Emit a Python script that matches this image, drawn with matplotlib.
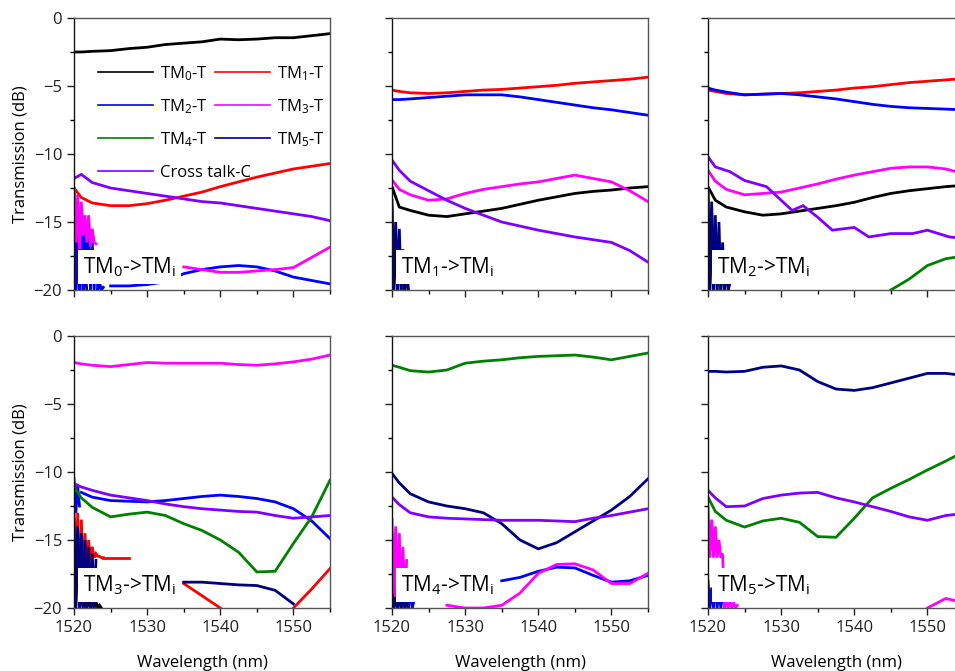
import numpy as np
import matplotlib.pyplot as plt
from matplotlib.ticker import MultipleLocator

nan = np.nan

# common wavelength grid (nm)
WL = [1520, 1521, 1522.5, 1525, 1527.5, 1530, 1532.5, 1535, 1537.5, 1540,
      1542.5, 1545, 1547.5, 1550, 1552.5, 1555]
# fine grid used for the noisy spikes close to 1520 nm
SPK = [1520.0, 1520.25, 1520.5, 1520.75, 1521.0, 1521.25, 1521.5, 1521.75, 1522.0,
       1522.25, 1522.5, 1522.75, 1523.0, 1523.25, 1523.5, 1523.75, 1524.0]

SERIES = ["TM$_0$-T", "TM$_1$-T", "TM$_2$-T", "TM$_3$-T", "TM$_4$-T", "TM$_5$-T", "Cross talk-C"]
COLORS = ["#000000", "#ff0000", "#0000ff", "#ff00ff", "#008000", "#000080", "#8000ff"]
PANEL_LABELS = ["TM$_0$->TM$_\\mathregular{i}$", "TM$_1$->TM$_\\mathregular{i}$", "TM$_2$->TM$_\\mathregular{i}$",
                "TM$_3$->TM$_\\mathregular{i}$", "TM$_4$->TM$_\\mathregular{i}$", "TM$_5$->TM$_\\mathregular{i}$"]

# ---- input TM0
P0_TM0 = [-2.5, -2.5, -2.45, -2.4, -2.25, -2.15, -1.95, -1.85, -1.75, -1.55, -1.6, -1.55, -1.45, -1.45, -1.3, -1.15]
P0_TM1 = [-12.5, -13.2, -13.6, -13.8, -13.8, -13.65, -13.4, -13.1, -12.8, -12.4, -12.05, -11.7, -11.4, -11.1, -10.9, -10.7]
P0_TM2 = [nan, nan, nan, -19.7, -19.7, -19.6, -19.4, -18.8, -18.5, -18.3, -18.2, -18.3, -18.6, -19.05, -19.3, -19.55]
P0_TM3 = [nan, nan, nan, nan, nan, nan, nan, -18.3, -18.5, -18.7, -18.7, -18.6, -18.5, -18.35, -17.6, -16.85]
P0_XT = [-11.8, -11.5, -12.1, -12.5, -12.7, -12.9, -13.1, -13.3, -13.5, -13.6, -13.8, -14.0, -14.2, -14.4, -14.6, -14.9]
P0_SPK_TM2 = [-13.0, -20, -14.0, -20, -14.5, -20, -15.5, -19, -16.0, -20, -16.5, -20, -17.5, -20, -19.5, -20, -19.8]
P0_SPK_TM3 = [-12.5, -16.5, -13.0, -17, -13.5, -16, -14.5, -16.5, -14.5, -16.8, -15.5, -16.5, -16.6, nan, nan, nan, nan]
P0_SPK_TM4 = [-12.8, -20, -13.5, -20, nan, nan, nan, nan, nan, nan, nan, nan, nan, nan, nan, nan, nan]
P0_SPK_TM5 = [-16.0, -20, -16.5, -20, -17.0, -20, -18.5, -20, nan, nan, nan, nan, nan, nan, nan, nan, nan]

# ---- input TM1
P1_TM0 = [-12.4, -13.9, -14.15, -14.5, -14.6, -14.4, -14.2, -14.0, -13.7, -13.4, -13.15, -12.9, -12.75, -12.65, -12.5, -12.4]
P1_TM1 = [-5.3, -5.4, -5.5, -5.55, -5.5, -5.4, -5.3, -5.25, -5.15, -5.05, -4.95, -4.8, -4.7, -4.6, -4.5, -4.35]
P1_TM2 = [-6.0, -6.0, -5.95, -5.85, -5.75, -5.65, -5.65, -5.65, -5.8, -6.0, -6.2, -6.4, -6.6, -6.75, -6.95, -7.15]
P1_TM3 = [-11.9, -12.6, -13.0, -13.4, -13.3, -12.9, -12.6, -12.4, -12.2, -12.05, -11.8, -11.55, -11.8, -12.05, -12.7, -13.5]
P1_XT = [-10.45, -11.2, -12.0, -12.7, -13.4, -14.0, -14.5, -15.0, -15.3, -15.6, -15.85, -16.1, -16.3, -16.5, -17.1, -17.95]
P1_SPK_TM4 = [-14.0, -20, -16.0, -20, -17.0, -20, -19.0, -20, -19.5, nan, nan, nan, nan, nan, nan, nan, nan]
P1_SPK_TM5 = [-13.4, -20, -15.0, -20, -15.5, -20, -17.0, -20, -18.5, -20, nan, nan, nan, nan, nan, nan, nan]

# ---- input TM2
P2_TM0 = [-12.4, -13.4, -13.9, -14.25, -14.5, -14.4, -14.2, -14.0, -13.8, -13.55, -13.2, -12.9, -12.7, -12.55, -12.4, -12.3]
P2_TM1 = [-5.3, -5.4, -5.55, -5.65, -5.6, -5.55, -5.5, -5.4, -5.3, -5.15, -5.05, -4.9, -4.75, -4.65, -4.55, -4.45]
P2_TM2 = [-5.15, -5.3, -5.45, -5.65, -5.6, -5.55, -5.65, -5.8, -5.95, -6.15, -6.35, -6.5, -6.6, -6.65, -6.7, -6.75]
P2_TM3 = [-11.2, -12.0, -12.6, -13.0, -12.9, -12.8, -12.5, -12.2, -11.85, -11.55, -11.3, -11.05, -10.95, -10.95, -11.1, -11.45]
P2_TM4 = [nan, nan, nan, nan, nan, nan, nan, nan, nan, nan, nan, -20.0, -19.2, -18.2, -17.7, -17.5]
P2_XT_WL = [1520, 1521, 1523, 1525, 1528, 1530, 1531.5, 1533, 1535, 1537, 1540, 1542, 1545, 1548, 1550, 1553, 1555]
P2_XT = [-10.2, -10.95, -11.3, -11.95, -12.4, -13.4, -14.15, -13.8, -14.65, -15.6, -15.4, -16.1, -15.85, -15.85, -15.6, -16.1, -16.2]
P2_SPK_TM4 = [-12.5, -20, -14.0, -20, -16.0, -20, -17.5, -20, -19.0, nan, nan, nan, nan, nan, nan, nan, nan]
P2_SPK_TM5 = [-12.8, -20, -13.5, -20, -14.5, -20, -15.0, -20, -16.5, -20, -18.5, -20, -19.5, nan, nan, nan, nan]

# ---- input TM3
P3_TM1 = [nan, nan, nan, nan, nan, nan, nan, -18.2, -19.1, -20.0, nan, nan, nan, -20.0, -18.6, -17.1]
P3_TM2 = [nan, -11.5, -11.85, -12.1, -12.15, -12.2, -12.1, -11.95, -11.8, -11.7, -11.8, -11.95, -12.2, -12.7, -13.6, -14.9]
P3_TM3 = [-1.95, -2.05, -2.15, -2.25, -2.1, -1.95, -2.0, -2.0, -2.0, -2.0, -2.1, -2.15, -2.05, -1.9, -1.7, -1.4]
P3_TM4 = [-11.1, -11.9, -12.6, -13.3, -13.1, -12.95, -13.2, -13.8, -14.3, -15.0, -15.9, -17.35, -17.3, -15.25, -13.3, -10.6]
P3_TM5 = [nan, nan, nan, nan, nan, nan, nan, -18.1, -18.1, -18.2, -18.3, -18.35, -18.7, -19.7, nan, nan]
P3_XT = [-10.85, -11.1, -11.35, -11.7, -11.9, -12.1, -12.35, -12.55, -12.7, -12.8, -12.9, -12.95, -13.2, -13.4, -13.3, -13.2]
P3_SPK_TM0 = [nan, nan, nan, nan, -19.3, -20, -19.5, -20, -19.4, -20, -19.6, -20, -19.5, -20, -19.8, -20, nan]
P3_SPK_TM1 = [-12.5, -20, -13.0, -20, -13.5, -18, -14.5, -17, -15.0, -16.5, -15.5, -16.3, -16.0, -16.2, -16.2, -16.3, -16.3]
P3_SPK_TM2 = [-10.5, -13, -11.0, -12.5, nan, nan, nan, nan, nan, nan, nan, nan, nan, nan, nan, nan, nan]
P3_SPK_TM5 = [-13.5, -20, -14.0, -20, -14.5, -20, -15.0, -20, -15.5, -20, -16.0, -20, -16.5, nan, nan, nan, nan]
P3_RED_TAIL_WL = [1524, 1525.5, 1527.5]
P3_RED_TAIL = [-16.3, -16.3, -16.3]

# ---- input TM4
P4_TM2 = [nan, nan, nan, nan, nan, nan, nan, -18.0, -17.75, -17.3, -17.0, -17.05, -17.6, -18.1, -18.0, -17.6]
P4_TM3 = [nan, nan, nan, nan, -19.8, -20.0, -20.0, -19.8, -18.9, -17.45, -16.8, -16.75, -17.2, -18.2, -18.2, -17.45]
P4_TM4 = [-2.15, -2.3, -2.55, -2.65, -2.5, -2.0, -1.85, -1.75, -1.6, -1.5, -1.45, -1.4, -1.55, -1.75, -1.5, -1.25]
P4_TM5 = [-10.1, -10.8, -11.6, -12.2, -12.5, -12.7, -13.0, -13.8, -15.0, -15.65, -15.2, -14.4, -13.6, -12.8, -11.8, -10.5]
P4_XT = [-11.85, -12.4, -13.0, -13.3, -13.4, -13.45, -13.5, -13.55, -13.55, -13.55, -13.6, -13.65, -13.4, -13.2, -12.95, -12.7]
P4_SPK_TM1 = [-19.0, -20, -18.8, -20, -19.2, -20, -19.0, -20, -19.5, nan, nan, nan, nan, nan, nan, nan, nan]
P4_SPK_TM2 = [-14.5, -20, -15.0, -20, -15.5, -20, -16.5, -20, -17.5, -20, -18.5, -20, -19.5, nan, nan, nan, nan]
P4_SPK_TM3 = [-13.5, -20, -14.0, -20, -14.5, -20, -15.5, -20, -16.5, nan, nan, nan, nan, nan, nan, nan, nan]
P4_SPK_TM5 = [-19.0, -20, -19.2, -20, -19.0, -20, -19.3, -20, -19.5, -20, nan, nan, nan, nan, nan, nan, nan]

# ---- input TM5
P5_TM3 = [nan, nan, nan, nan, nan, nan, nan, nan, nan, nan, nan, nan, nan, -20.0, -19.3, -19.6]
P5_TM4 = [-11.85, -12.9, -13.55, -14.05, -13.6, -13.4, -13.7, -14.75, -14.8, -13.4, -11.9, -11.2, -10.55, -9.85, -9.2, -8.5]
P5_TM5 = [-2.6, -2.6, -2.65, -2.6, -2.3, -2.2, -2.5, -3.35, -3.9, -4.0, -3.8, -3.45, -3.1, -2.75, -2.75, -2.9]
P5_XT = [-11.35, -11.9, -12.55, -12.5, -11.95, -11.7, -11.55, -11.5, -11.9, -12.2, -12.55, -12.9, -13.3, -13.55, -13.2, -13.05]
P5_SPK_TM2 = [-18.0, -20, -18.5, -20, -18.0, -20, -18.5, -20, -19.0, nan, nan, nan, nan, nan, nan, nan, nan]
P5_SPK_TM3 = [-12.5, -16.3, -13.5, -16.3, -14.0, -16.3, -15.0, -16.3, -16.0, -20, -19.5, -20, -19.5, -20, -19.6, -20, -19.8]

TRACES = [
    [(WL, P0_TM0, 0), (WL, P0_TM1, 1), (WL, P0_TM2, 2), (WL, P0_TM3, 3), (SPK, P0_SPK_TM4, 4),
     (SPK, P0_SPK_TM5, 5), (SPK, P0_SPK_TM2, 2), (SPK, P0_SPK_TM3, 3), (WL, P0_XT, 6)],
    [(WL, P1_TM0, 0), (WL, P1_TM1, 1), (WL, P1_TM2, 2), (WL, P1_TM3, 3), (SPK, P1_SPK_TM4, 4),
     (SPK, P1_SPK_TM5, 5), (WL, P1_XT, 6)],
    [(WL, P2_TM0, 0), (WL, P2_TM1, 1), (WL, P2_TM2, 2), (WL, P2_TM3, 3), (WL, P2_TM4, 4),
     (SPK, P2_SPK_TM4, 4), (SPK, P2_SPK_TM5, 5), (P2_XT_WL, P2_XT, 6)],
    [(SPK, P3_SPK_TM0, 0), (WL, P3_TM1, 1), (SPK, P3_SPK_TM1, 1), (P3_RED_TAIL_WL, P3_RED_TAIL, 1),
     (WL, P3_TM2, 2), (SPK, P3_SPK_TM2, 2), (WL, P3_TM3, 3), (WL, P3_TM4, 4), (WL, P3_TM5, 5),
     (SPK, P3_SPK_TM5, 5), (WL, P3_XT, 6)],
    [(SPK, P4_SPK_TM1, 1), (WL, P4_TM2, 2), (SPK, P4_SPK_TM2, 2), (WL, P4_TM3, 3), (SPK, P4_SPK_TM3, 3),
     (WL, P4_TM4, 4), (WL, P4_TM5, 5), (SPK, P4_SPK_TM5, 5), (WL, P4_XT, 6)],
    [(SPK, P5_SPK_TM2, 2), (WL, P5_TM3, 3), (SPK, P5_SPK_TM3, 3), (WL, P5_TM4, 4), (WL, P5_TM5, 5),
     (WL, P5_XT, 6)],
]

plt.rcParams["font.family"] = ["Open Sans", "DejaVu Sans"]
plt.rcParams["mathtext.default"] = "regular"
plt.rcParams["font.size"] = 12

fig = plt.figure(figsize=(9.55, 6.71), dpi=100)
lefts = [74, 392, 708]
tops = [18, 336]
W, H = 955, 671
axes = []
for r, top in enumerate(tops):
    for c, left in enumerate(lefts):
        ax = fig.add_axes([left / W, 1 - (top + 272) / H, 256 / W, 272 / H])
        axes.append(ax)

for i, ax in enumerate(axes):
    for x, y, k in TRACES[i]:
        ax.plot(x, y, color=COLORS[k], lw=2.0, solid_joinstyle="miter")
    ax.set_xlim(1520, 1555)
    ax.set_ylim(-20, 0)
    ax.xaxis.set_major_locator(MultipleLocator(10))
    ax.xaxis.set_minor_locator(MultipleLocator(5))
    ax.yaxis.set_major_locator(MultipleLocator(5))
    ax.yaxis.set_minor_locator(MultipleLocator(2.5))
    ax.tick_params(which="major", direction="out", length=5, width=1, labelsize=12, colors="#222222")
    ax.tick_params(which="minor", direction="out", length=3, width=1)
    for s in ax.spines.values():
        s.set_linewidth(1)
        s.set_color("#555555")
    ax.spines["left"].set_color("#111111")
    if i < 3:
        ax.tick_params(labelbottom=False)
    else:
        ax.set_xlabel("Wavelength (nm)", fontsize=12, labelpad=14)
    if i % 3 != 0:
        ax.tick_params(labelleft=False)
    else:
        ax.set_ylabel("Transmission (dB)", fontsize=12, labelpad=4)
    ax.text(0.035, 0.085, PANEL_LABELS[i], transform=ax.transAxes, fontsize=15,
            ha="left", va="center", zorder=5,
            bbox=dict(boxstyle="square,pad=0.25", fc="white", ec="none"))

# legend filled row by row: TM0 TM1 / TM2 TM3 / TM4 TM5, cross talk below on its own
order = [0, 2, 4, 1, 3, 5]
handles = [plt.Line2D([], [], color=COLORS[k], lw=1.2) for k in order]
labels = [SERIES[k] for k in order]
leg = axes[0].legend(handles, labels, loc="upper left", bbox_to_anchor=(0.035, 0.885), ncol=2,
                     frameon=False, fontsize=12, handlelength=3.3, handletextpad=0.4,
                     columnspacing=0.45, labelspacing=0.85)
axes[0].add_artist(leg)
axes[0].legend([plt.Line2D([], [], color=COLORS[6], lw=1.2)], [SERIES[6]], loc="center left",
               bbox_to_anchor=(0.035, 0.43), frameon=False, fontsize=12, handlelength=3.3,
               handletextpad=0.4)

fig.savefig("out.png", dpi=100)
